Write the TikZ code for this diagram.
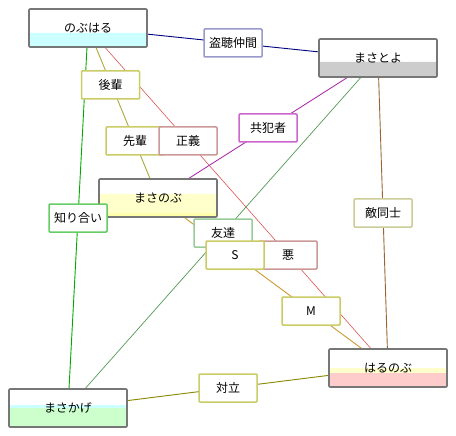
\documentclass[tikz,border=0pt]{standalone}
\usepackage{fontspec}
\newfontfamily\jp{Noto Sans CJK JP}
\pgfdeclarelayer{bg}
\pgfsetlayers{bg,main}
\definecolor{cbord}{RGB}{119,119,119}
\definecolor{bcyan}{RGB}{204,255,255}
\definecolor{bgray}{RGB}{204,204,204}
\definecolor{byel}{RGB}{255,255,204}
\definecolor{byeltwo}{RGB}{255,255,170}
\definecolor{bgreen}{RGB}{204,255,204}
\definecolor{bpink}{RGB}{255,204,204}
\definecolor{kolive}{RGB}{204,204,102}
\definecolor{kblue}{RGB}{153,153,204}
\definecolor{kred}{RGB}{204,153,153}
\definecolor{kmag}{RGB}{204,102,204}
\definecolor{kgreen}{RGB}{102,204,102}
\definecolor{klgreen}{RGB}{153,204,153}
\definecolor{kkhaki}{RGB}{204,204,153}
\definecolor{lnavy}{RGB}{0,0,128}
\definecolor{lolive}{RGB}{170,170,60}
\definecolor{lred}{RGB}{221,85,85}
\definecolor{lgreen}{RGB}{0,170,0}
\definecolor{lmag}{RGB}{170,51,170}
\definecolor{ldgreen}{RGB}{85,153,85}
\definecolor{lbrown}{RGB}{153,102,51}
\definecolor{lorange}{RGB}{204,153,51}
\definecolor{ldolive}{RGB}{136,136,0}
\tikzset{
  jpfont/.style={font=\jp\fontsize{12pt}{14pt}\selectfont},
  charbox/.style={draw=cbord, line width=1.6pt, fill=white, minimum width=118pt, minimum height=38pt, inner sep=0pt, rounded corners=1pt, jpfont},
  band/.style 2 args={path picture={\fill[#1] ([yshift=#2]path picture bounding box.south west) rectangle (path picture bounding box.south east);}},
  bandtwo/.style n args={4}{path picture={\fill[#1] ([yshift=#2]path picture bounding box.south west) rectangle (path picture bounding box.south east); \fill[#3] ([yshift=#4]path picture bounding box.south west) rectangle (path picture bounding box.south east);}},
  lbl/.style={draw=#1, line width=1.5pt, fill=white, minimum width=58pt, minimum height=28pt, inner sep=0pt, rounded corners=1pt, jpfont},
  rel/.style={draw=#1, line width=0.9pt},
}
\begin{document}
\begin{tikzpicture}[x=1pt,y=-1pt]
\useasboundingbox (0,0) rectangle (456,436);
\begin{pgfonlayer}{bg}
\fill[white] (0,0) rectangle (456,436);
\end{pgfonlayer}
% character boxes
\node[charbox, band={bcyan}{14pt}] (nobu) at (88,28) {のぶはる};
\node[charbox, band={bgray}{15pt}] (masato) at (378,58) {まさとよ};
\node[charbox, bandtwo={byel}{23pt}{byeltwo}{4pt}] (masanobu) at (158,198) {まさのぶ};
\node[charbox, bandtwo={bcyan}{22pt}{bgreen}{19pt}] (masakage) at (68,408) {まさかげ};
\node[charbox, bandtwo={byel}{19pt}{bpink}{14pt}] (haru) at (388,368) {はるのぶ};
% connectors
\begin{pgfonlayer}{bg}
\draw[rel=lnavy] (nobu) -- (masato);
\draw[rel=lolive] (nobu) -- (masanobu);
\draw[rel=lred, line width=0.6pt] (nobu) -- (haru);
\draw[rel=lgreen] (nobu) -- (masakage);
\draw[rel=lmag] (masato) -- (masanobu);
\draw[rel=ldgreen, line width=0.7pt] (masato) -- (masakage);
\draw[rel=lbrown] (masato) -- (haru);
\draw[rel=lorange] (masanobu) -- (haru);
\draw[rel=ldolive] (masakage) -- (haru);
\end{pgfonlayer}
% relation labels
\node[lbl=kolive] (kohai) at (110.5,85) {後輩};
\node[lbl=kolive] (senpai) at (135,141) {先輩};
\node[lbl=kred] (seigi) at (188,141) {正義};
\node[lbl=kblue] (tocho) at (233,43) {盗聴仲間};
\node[lbl=kmag] (kyohan) at (268,128) {共犯者};
\node[lbl=kgreen] (shiri) at (78,218) {知り合い};
\node[lbl=klgreen] (tomo) at (223,233) {友達};
\node[lbl=kred] (aku) at (288,255) {悪};
\node[lbl=kolive] (ss) at (235,255) {S};
\node[lbl=kolive] (mm) at (311,311) {M};
\node[lbl=kkhaki] (teki) at (383,213) {敵同士};
\node[lbl=kolive] (tairitsu) at (228,388) {対立};
\end{tikzpicture}
\end{document}
